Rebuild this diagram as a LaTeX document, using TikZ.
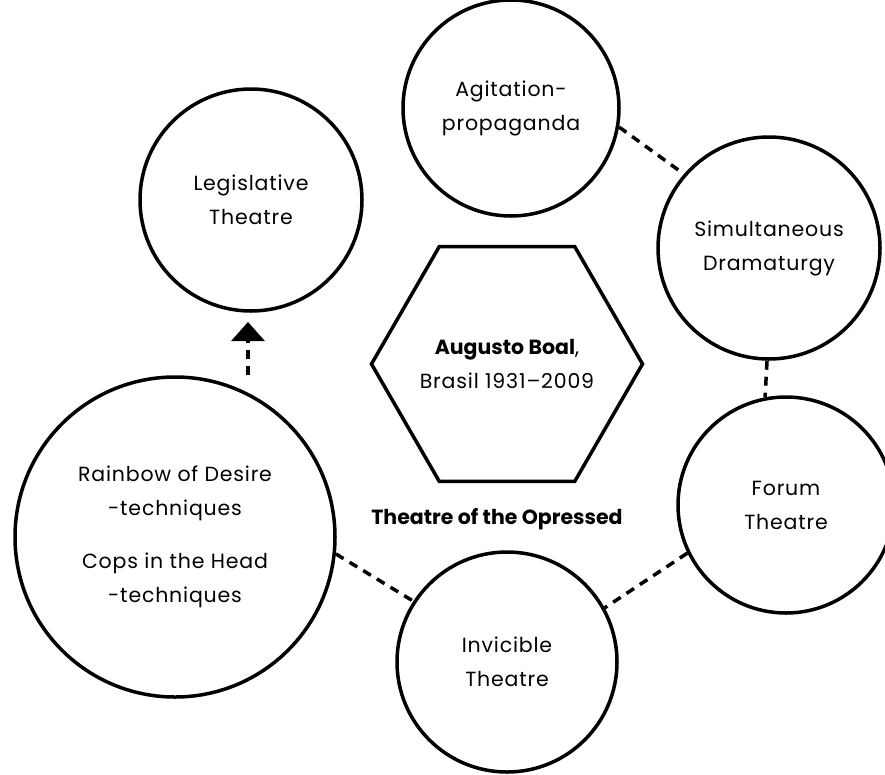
\documentclass[tikz,border=0pt]{standalone}
\usepackage{fontspec}
\setmainfont{Poppins}[UprightFeatures={LetterSpace=4}]
\usetikzlibrary{shapes.geometric,arrows.meta}
\begin{document}
\begin{tikzpicture}[x=1pt,y=-1pt,
  every node/.style={font=\fontsize{20.5}{34}\selectfont},
  ring/.style={circle,draw=black,line width=3.5pt,inner sep=0pt,align=center},
  link/.style={line width=3.5pt,dash pattern=on 9pt off 7pt}]
\useasboundingbox (0,0) rectangle (885,774);

% topic circles
\node[ring,minimum size=216pt] (agit) at (511,108) {Agitation-\\propaganda};
\node[ring,minimum size=222pt] (leg) at (251,200) {Legislative\\Theatre};
\node[ring,minimum size=222pt] (sim) at (769,248) {Simultaneous\\Dramaturgy};
\node[ring,minimum size=216pt] (forum) at (786,505) {Forum\\Theatre};
\node[ring,minimum size=220pt] (inv) at (507,662) {Invicible\\Theatre};
\node[ring,minimum size=320pt] (rain) at (175,537) {Rainbow of Desire\\-techniques\\[19pt]Cops in the Head\\-techniques};

% central hexagon with its caption set on top
\node[regular polygon,regular polygon sides=6,
      draw=black,line width=3.5pt,minimum size=271pt,inner sep=0pt]
      (boal) at (507,364) {};
\node[align=center] (boaltext) at (boal.center) {\textbf{Augusto Boal},\\Brasil 1931–2009};
\node[font=\fontsize{20.5}{34}\selectfont\bfseries] (title) at (497,519) {Theatre of the Opressed};

% dashed links between circles
\draw[link] (agit.-10) -- (sim.139);
\draw[link] (sim.-91) -- (forum.101);
\draw[link] (forum.-154) -- (inv.29);
\draw[link] (rain.-6) -- (inv.147);
\coordinate (tip) at (248,322);
\draw[link,-{Triangle[width=33pt,length=19pt]}] (rain.north -| tip) -- (tip);
\end{tikzpicture}
\end{document}
